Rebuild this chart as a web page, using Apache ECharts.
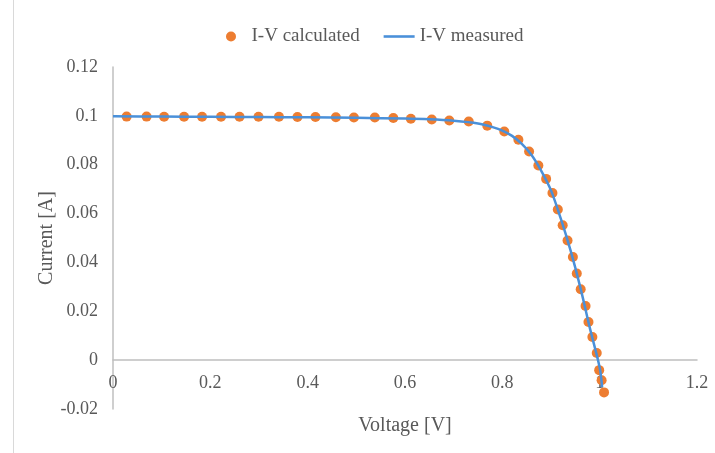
<!DOCTYPE html>
<html>
<head>
<meta charset="utf-8">
<script src="https://cdn.jsdelivr.net/npm/echarts@6/dist/echarts.min.js"></script>
<style>
  html, body { margin: 0; padding: 0; background: #fff; }
  #chart { width: 715px; height: 453px; }
</style>
</head>
<body>
<div id="chart"></div>
<script>
// calculated points (voltage V, current A)
var calcV = [0.028, 0.069, 0.105, 0.146, 0.183, 0.222, 0.260, 0.299, 0.341, 0.379,
  0.416, 0.458, 0.495, 0.538, 0.576, 0.612, 0.655, 0.691, 0.731, 0.769,
  0.804, 0.833, 0.855, 0.874, 0.890, 0.903, 0.914, 0.924, 0.934, 0.945,
  0.953, 0.961, 0.971, 0.977, 0.985, 0.994, 0.999, 1.004, 1.009];
var calcI = [0.0997, 0.0997, 0.0996, 0.0996, 0.0996, 0.0996, 0.0996, 0.0996, 0.0996, 0.0995,
  0.0995, 0.0994, 0.0993, 0.0993, 0.0991, 0.0988, 0.0985, 0.0981, 0.0977, 0.0960,
  0.0936, 0.0902, 0.0854, 0.0797, 0.0742, 0.0684, 0.0617, 0.0552, 0.0490, 0.0422,
  0.0355, 0.0290, 0.0222, 0.0156, 0.0095, 0.0029, -0.0041, -0.0082, -0.0132];

// measured curve
var measV = [0, 0.1, 0.2, 0.3, 0.4, 0.5, 0.6, 0.65, 0.7, 0.75, 0.78, 0.8, 0.82,
  0.84, 0.86, 0.88, 0.9, 0.92, 0.94, 0.96, 0.98, 1.0, 1.005];
var measI = [0.0998, 0.0997, 0.0996, 0.0995, 0.0994, 0.0992, 0.0989, 0.0986, 0.0980, 0.0969,
  0.0954, 0.0940, 0.0918, 0.0885, 0.0840, 0.0775, 0.0695, 0.0580, 0.0450, 0.0300,
  0.0130, -0.0030, -0.0110];

var xTicks = { min: 0, max: 1.2, step: 0.2 };
var yTicks = { min: -0.02, max: 0.12, step: 0.02 };

var zip = function (a, b) {
  return a.map(function (v, i) { return [v, b[i]]; });
};
var fmt = function (v) { return String(parseFloat(v.toFixed(2))); };

var gridTop = 67, gridBottom = 44, H = 453;
// move the x axis (line, labels, name) up to the y = 0 level
var zeroOffset = -(H - gridTop - gridBottom) * (0 - yTicks.min) / (yTicks.max - yTicks.min);

var myChart = echarts.init(document.getElementById('chart'));
var font = '"Liberation Serif", "Times New Roman", serif';
var grey = '#595959';
var option = {
  backgroundColor: '#fff',
  textStyle: { fontFamily: font },
  graphic: [{
    type: 'line',
    shape: { x1: 13.5, y1: 0, x2: 13.5, y2: 453 },
    style: { stroke: '#d9d9d9', lineWidth: 1 }
  }],
  legend: {
    left: 221,
    top: 22,
    itemWidth: 31,
    itemHeight: 10,
    itemGap: 24,
    textStyle: { fontFamily: font, fontSize: 19, color: grey },
    data: [
      { name: 'I-V calculated', icon: 'circle' },
      { name: 'I-V measured', icon: 'path://M0,0H12V1H0Z' }
    ]
  },
  grid: { left: 113, right: 18, top: gridTop, bottom: gridBottom, outerBoundsMode: 'none', containLabel: false },
  xAxis: {
    type: 'value',
    min: xTicks.min,
    max: xTicks.max,
    interval: xTicks.step,
    offset: zeroOffset,
    name: 'Voltage [V]',
    nameLocation: 'middle',
    nameGap: 56,
    nameMoveOverlap: false,
    nameTextStyle: { fontFamily: font, fontSize: 20, color: grey },
    axisLine: { onZero: false, lineStyle: { color: '#bfbfbf', width: 1.5 } },
    axisTick: { show: false },
    splitLine: { show: false },
    axisLabel: { fontFamily: font, fontSize: 18, color: grey, margin: 14, formatter: fmt }
  },
  yAxis: {
    type: 'value',
    min: yTicks.min,
    max: yTicks.max,
    interval: yTicks.step,
    name: 'Current [A]',
    nameLocation: 'middle',
    nameRotate: 90,
    nameGap: 56,
    nameMoveOverlap: false,
    nameTextStyle: { fontFamily: font, fontSize: 20, color: grey },
    axisLine: { show: true, lineStyle: { color: '#bfbfbf', width: 1.5 } },
    axisTick: { show: false },
    splitLine: { show: false },
    axisLabel: { fontFamily: font, fontSize: 18, color: grey, margin: 15, formatter: fmt }
  },
  series: [
    {
      name: 'I-V calculated',
      type: 'scatter',
      symbol: 'circle',
      symbolSize: 10,
      itemStyle: { color: '#ED7D31', opacity: 1 },
      z: 3,
      data: zip(calcV, calcI)
    },
    {
      name: 'I-V measured',
      type: 'line',
      symbol: 'none',
      smooth: 0.3,
      lineStyle: { color: '#4A90D9', width: 2.5 },
      itemStyle: { color: '#4A90D9' },
      z: 4,
      data: zip(measV, measI)
    }
  ]
};
myChart.setOption(option);
</script>
</body>
</html>
